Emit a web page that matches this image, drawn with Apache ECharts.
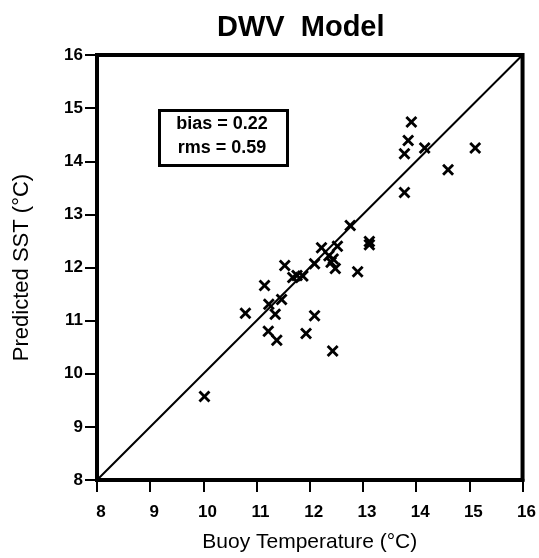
<!DOCTYPE html>
<html>
<head>
<meta charset="utf-8">
<script src="https://cdn.jsdelivr.net/npm/echarts@6/dist/echarts.min.js"></script>
<style>html,body{margin:0;padding:0;background:#fff}#c{width:539px;height:558px}</style>
</head>
<body>
<div id="c"></div>
<script>
var titleText = 'DWV  Model';
var xName = 'Buoy Temperature (°C)';
var yName = 'Predicted SST (°C)';
var statLines = ['bias = 0.22', 'rms = 0.59'];
var axisMin = 8, axisMax = 16, axisStep = 1;
var buoyTemp = [10.02,10.79,11.15,11.23,11.22,11.38,11.35,11.47,11.53,11.68,11.76,11.87,11.93,12.09,12.09,12.22,12.36,12.44,12.40,12.48,12.52,12.43,12.76,12.90,13.12,13.12,13.78,13.78,13.85,13.91,14.16,14.60,15.11];
var predSST  = [9.57,11.14,11.66,11.31,10.80,10.63,11.12,11.40,12.04,11.81,11.85,11.84,10.76,11.09,12.07,12.37,12.22,12.16,12.10,11.98,12.40,10.43,12.79,11.92,12.49,12.43,13.41,14.14,14.39,14.74,14.25,13.84,14.25];
var oneToOne = [[8,8],[16,16]];

var pts = buoyTemp.map(function(v,i){return [v, predSST[i]];});
var font = 'Liberation Sans, Arial, Helvetica, sans-serif';
var xShape = 'path://M0,2 L2,0 L6,4 L10,0 L12,2 L8,6 L12,10 L10,12 L6,8 L2,12 L0,10 L4,6 Z';

var chart = echarts.init(document.getElementById('c'), null, {renderer:'canvas'});
chart.setOption({
  animation: false,
  backgroundColor: '#fff',
  title: {text: titleText, left: 212, top: 8,
    textStyle: {fontFamily: font, fontSize: 29, fontWeight: 'bold', color: '#000'}},
  grid: {left: 97, right: 13, top: 55, bottom: 77, show: true, borderColor: '#000', borderWidth: 4, containLabel: false},
  xAxis: {type: 'value', min: axisMin, max: axisMax, interval: axisStep,
    name: xName, nameLocation: 'middle', nameGap: 52,
    nameTextStyle: {fontFamily: font, fontSize: 21, color: '#000'},
    axisLine: {show: true, lineStyle: {color: '#000', width: 4}},
    axisTick: {show: true, length: 12, lineStyle: {color: '#000', width: 2}},
    axisLabel: {fontFamily: font, fontSize: 17, fontWeight: 'bold', color: '#000', margin: 24, padding: [0,0,0,8], showMaxLabel: true},
    splitLine: {show: false}},
  yAxis: {type: 'value', min: axisMin, max: axisMax, interval: axisStep,
    name: yName, nameLocation: 'middle', nameGap: 64,
    nameTextStyle: {fontFamily: font, fontSize: 22, color: '#000'},
    axisLine: {show: true, lineStyle: {color: '#000', width: 4}},
    axisTick: {show: true, length: 12, lineStyle: {color: '#000', width: 2}},
    axisLabel: {fontFamily: font, fontSize: 17, fontWeight: 'bold', color: '#000', margin: 14},
    splitLine: {show: false}},
  graphic: [
    {type: 'rect', left: 158, top: 109, shape: {width: 128, height: 55},
      style: {fill: '#fff', stroke: '#000', lineWidth: 3}, z: 100},
    {type: 'text', x: 222, y: 124, style: {text: statLines[0], fontFamily: font, fontSize: 18, fontWeight: 'bold', fill: '#000', align: 'center', verticalAlign: 'middle'}, z: 101},
    {type: 'text', x: 222, y: 148, style: {text: statLines[1], fontFamily: font, fontSize: 18, fontWeight: 'bold', fill: '#000', align: 'center', verticalAlign: 'middle'}, z: 101}
  ],
  series: [
    {type: 'line', data: oneToOne, symbol: 'none', lineStyle: {color: '#000', width: 2}, z: 2},
    {type: 'scatter', data: pts, symbol: xShape, symbolSize: 12, itemStyle: {color: '#000', opacity: 1}, z: 3}
  ]
});
</script>
</body>
</html>
